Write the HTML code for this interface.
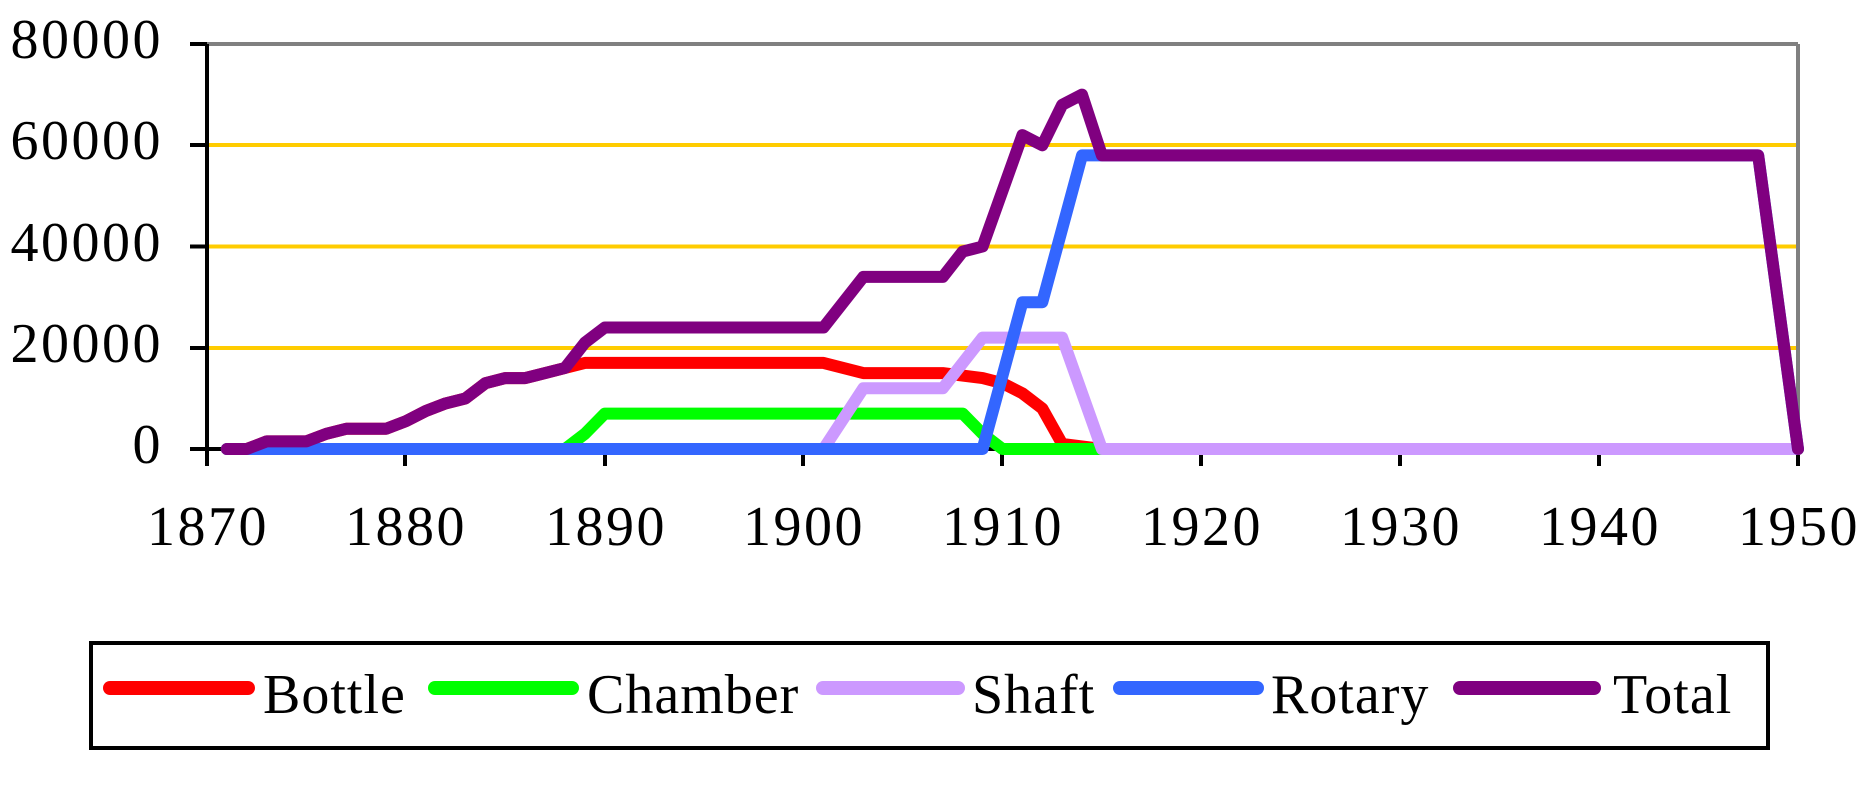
<!DOCTYPE html>
<html><head><style>html,body{margin:0;padding:0;background:#fff;overflow:hidden}</style></head>
<body>
<svg width="1871" height="795" xmlns="http://www.w3.org/2000/svg" font-family="Liberation Serif, serif" font-size="56" letter-spacing="2.5">
<rect width="1871" height="795" fill="#fff"/>
<g stroke="#FFCC00" stroke-width="4">
<line x1="207" y1="145" x2="1798" y2="145"/>
<line x1="207" y1="246.5" x2="1798" y2="246.5"/>
<line x1="207" y1="348" x2="1798" y2="348"/>
</g>
<line x1="207" y1="44" x2="1798" y2="44" stroke="#808080" stroke-width="4"/>
<line x1="1798" y1="44" x2="1798" y2="449" stroke="#808080" stroke-width="4"/>
<g stroke="#000" stroke-width="4">
<line x1="207" y1="44" x2="207" y2="466"/>
<line x1="207" y1="449" x2="1798" y2="449"/>
<line x1="190" y1="44" x2="207" y2="44"/><line x1="190" y1="145" x2="207" y2="145"/><line x1="190" y1="246.5" x2="207" y2="246.5"/><line x1="190" y1="348" x2="207" y2="348"/><line x1="190" y1="449" x2="207" y2="449"/>
<line x1="405" y1="449" x2="405" y2="466"/><line x1="605" y1="449" x2="605" y2="466"/><line x1="803" y1="449" x2="803" y2="466"/><line x1="1002" y1="449" x2="1002" y2="466"/><line x1="1201" y1="449" x2="1201" y2="466"/><line x1="1400" y1="449" x2="1400" y2="466"/><line x1="1599" y1="449" x2="1599" y2="466"/><line x1="1798" y1="449" x2="1798" y2="466"/>
</g>
<g text-anchor="end">
<text x="163" y="58">80000</text><text x="163" y="159">60000</text><text x="163" y="261">40000</text><text x="163" y="362">20000</text><text x="163" y="463">0</text>
</g>
<g text-anchor="middle">
<text x="208" y="545">1870</text><text x="406" y="545">1880</text><text x="606" y="545">1890</text><text x="804" y="545">1900</text><text x="1003" y="545">1910</text><text x="1202" y="545">1920</text><text x="1401" y="545">1930</text><text x="1600" y="545">1940</text><text x="1799" y="545">1950</text>
</g>
<g fill="none" stroke-width="12" stroke-linejoin="round" stroke-linecap="round" id="lines"></g>
<rect x="91" y="643" width="1677" height="105" fill="none" stroke="#000" stroke-width="4"/>
<g stroke-width="14" stroke-linecap="round">
<line x1="110" y1="688" x2="248" y2="688" stroke="#FF0000"/>
<line x1="435" y1="688" x2="572" y2="688" stroke="#00FF00"/>
<line x1="823" y1="688" x2="958" y2="688" stroke="#CC99FF"/>
<line x1="1120" y1="688" x2="1257" y2="688" stroke="#3366FF"/>
<line x1="1460" y1="688" x2="1594" y2="688" stroke="#800080"/>
</g>
<g letter-spacing="1">
<text x="263" y="713">Bottle</text><text x="587" y="713">Chamber</text><text x="972" y="713">Shaft</text><text x="1271" y="713">Rotary</text><text x="1613" y="713">Total</text>
</g>
</svg>
<script>
const S={
"#FF0000":[[1871,0],[1872,0],[1873,1500],[1875,1500],[1876,3000],[1877,4000],[1879,4000],[1880,5500],[1881,7500],[1882,9000],[1883,10000],[1884,13000],[1885,14000],[1886,14000],[1887,15000],[1888,16000],[1889,17000],[1901,17000],[1903,15000],[1907,15000],[1909,14000],[1910,13000],[1911,11000],[1912,8000],[1913,1000],[1914,500],[1915,0],[1950,0]],
"#00FF00":[[1871,0],[1888,0],[1889,3000],[1890,7000],[1908,7000],[1909,3000],[1910,0],[1950,0]],
"#CC99FF":[[1871,0],[1901,0],[1903,12000],[1907,12000],[1909,22000],[1913,22000],[1915,0],[1950,0]],
"#3366FF":[[1871,0],[1909,0],[1911,29000],[1912,29000],[1914,58000],[1948,58000],[1950,0]],
"#800080":[[1871,0],[1872,0],[1873,1500],[1875,1500],[1876,3000],[1877,4000],[1879,4000],[1880,5500],[1881,7500],[1882,9000],[1883,10000],[1884,13000],[1885,14000],[1886,14000],[1887,15000],[1888,16000],[1889,21000],[1890,24000],[1901,24000],[1903,34000],[1907,34000],[1908,39000],[1909,40000],[1911,62000],[1912,60000],[1913,68000],[1914,70000],[1915,58000],[1948,58000],[1950,0]]};
const g=document.getElementById('lines');
for(const c in S){const p=document.createElementNS('http://www.w3.org/2000/svg','polyline');
p.setAttribute('points',S[c].map(([x,y])=>(207+(x-1870)*19.8875).toFixed(1)+','+(449-y*0.0050625).toFixed(1)).join(' '));
p.setAttribute('stroke',c);g.appendChild(p);}
</script>
</body></html>
